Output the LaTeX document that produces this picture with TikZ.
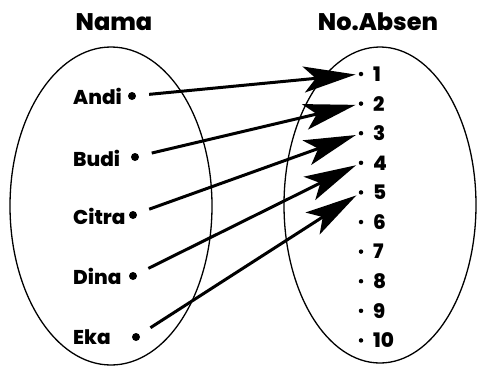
\documentclass[tikz,border=0pt]{standalone}
\usepackage{fontspec}
\setmainfont{Poppins}[BoldFont={* ExtraBold}]
\usetikzlibrary{arrows.meta}
\tikzset{
  setell/.style={draw, line width=1.3pt},
  title/.style={font=\bfseries\fontsize{24}{26}\selectfont, inner sep=0pt},
  lab/.style={font=\bfseries\fontsize{20}{22}\selectfont, anchor=west, inner sep=0pt},
  num/.style={font=\bfseries\fontsize{20}{22}\selectfont, anchor=west, inner sep=0pt},
  bigdot/.style={circle, fill=black, inner sep=0pt, minimum size=8pt},
  smalldot/.style={circle, fill=black, inner sep=0pt, minimum size=4.5pt},
  maparrow/.style={line width=3pt, -{Stealth[length=52pt, width=26pt, inset=12pt]}, shorten <=13pt, shorten >=3pt}
}
\begin{document}
\begin{tikzpicture}[x=1pt,y=-1pt]
\useasboundingbox (0,0) rectangle (477,376);
\draw[setell] (111,206) ellipse [x radius=101, y radius=159];
\draw[setell] (380,205) ellipse [x radius=96, y radius=158];
\node[title] (tnama) at (114,22) {Nama};
\node[title] (tabsen) at (378,22) {No.Absen};
% left labels
\node[lab] (andi) at (73,96) {Andi};
\node[lab] (budi) at (73,158) {Budi};
\node[lab] (citra) at (73,216) {Citra};
\node[lab] (dina) at (73,276) {Dina};
\node[lab] (eka) at (73,337) {Eka};
\node[bigdot] (a1) at (132,96) {};
\node[bigdot] (a2) at (135,157) {};
\node[bigdot] (a3) at (133,215) {};
\node[bigdot] (a4) at (133,276) {};
\node[bigdot] (a5) at (136,337) {};
% right numbers
\foreach \i in {1,...,10}{
  \node[smalldot] (b\i) at (361,{74+29.6*(\i-1)}) {};
  \node[num] (n\i) at (373,{74+29.6*(\i-1)}) {\i};
}
\draw[maparrow] (a1) -- (b1);
\draw[maparrow] (a2) -- (b2);
\draw[maparrow] (a3) -- (b3);
\draw[maparrow] (a4) -- (b4);
\draw[maparrow] (a5) -- (b5);
\end{tikzpicture}
\end{document}
